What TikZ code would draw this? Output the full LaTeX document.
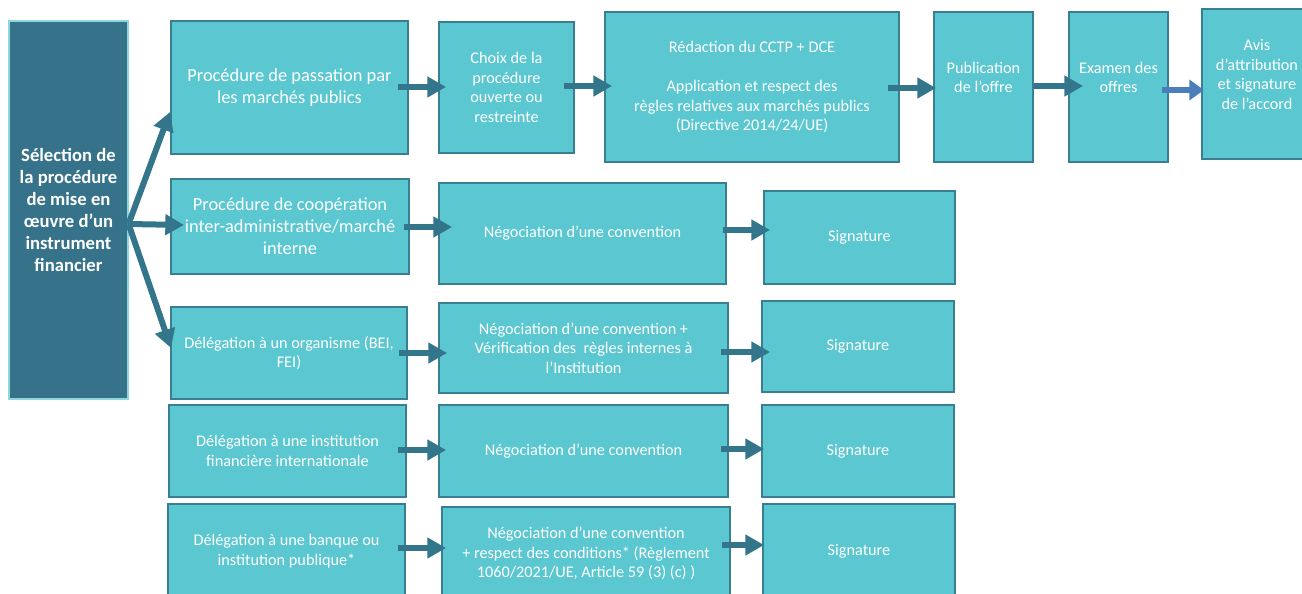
\documentclass[tikz,border=0pt]{standalone}
\usepackage{fontspec}
\setmainfont{Carlito}
\usetikzlibrary{arrows.meta,calc}
\definecolor{boxfill}{HTML}{5BC7D0}
\definecolor{boxline}{HTML}{3A7E94}
\definecolor{darkfill}{HTML}{36738A}
\definecolor{arrowcol}{HTML}{33758B}
\definecolor{bluearrow}{HTML}{4A7EBB}
\tikzset{
  sz/.style 2 args={minimum width=#1*0.75pt, minimum height=#2*0.75pt},
  stepbox/.style={draw=boxline, line width=1.5pt, fill=boxfill, text=white,
    inner sep=0pt, align=center, font=\fontsize{12.2}{14.7}\selectfont},
  bigtext/.style={font=\fontsize{13.8}{16.5}\selectfont},
  selbox/.style={draw=boxfill!70!white, line width=0.8pt, fill=darkfill, text=white,
    inner sep=0pt, align=center, font=\bfseries\fontsize{14}{16.5}\selectfont},
  arr/.style={draw=arrowcol, line width=4.5pt, -{Triangle[length=14pt,width=15pt]}},
  barr/.style={draw=bluearrow, line width=4.5pt, -{Triangle[length=11pt,width=15pt]}}
}
\begin{document}
\begin{tikzpicture}[x=0.75pt, y=-0.75pt]
\useasboundingbox (0,0) rectangle (1302,593);
\clip (0,0) rectangle (1302,593);

% selection box
\node[selbox, sz={119}{378}] (sel) at (68.5,210) {Sélection de\\la procédure\\de mise en\\œuvre d’un\\instrument\\financier};

% first column: the five procedures
\node[stepbox, bigtext, sz={237}{133}] (a1) at (289.5,87.5) {Procédure de passation par\\les marchés publics};
\node[stepbox, bigtext, sz={238}{95}] (a2) at (290,226.5) {Procédure de coopération\\inter-administrative/marché\\interne};
\node[stepbox, sz={236}{92}] (a3) at (289,353) {Délégation à un organisme (BEI,\\FEI)};
\node[stepbox, sz={237}{92}] (a4) at (287.5,451) {Délégation à une institution\\financière internationale};
\node[stepbox, sz={237}{94}] (a5) at (286.5,551) {Délégation à une banque ou\\institution publique*};

% public procurement chain
\node[stepbox, sz={135}{131}] (b1) at (506.5,87.5) {Choix de la\\procédure\\ouverte ou\\restreinte};
\node[stepbox, sz={294}{150}] (r) at (752,87) {Rédaction du CCTP + DCE\\\mbox{}\\Application et respect des\\règles relatives aux marchés publics\\(Directive 2014/24/UE)};
\node[stepbox, sz={99}{150}] (p) at (983.5,87) {Publication\\de l’offre\\\mbox{}};
\node[stepbox, sz={99}{150}] (e) at (1118.5,87) {Examen des\\offres\\\mbox{}};
\node[stepbox, sz={110}{150}] (av) at (1257,84) {Avis\\d’attribution\\et signature\\de l’accord\\\mbox{}};

% negotiation column
\node[stepbox, sz={287}{101}] (b2) at (582.5,233.5) {Négociation d’une convention};
\node[stepbox, sz={289}{90}] (b3) at (583.5,348) {Négociation d’une convention +\\Vérification des\ \ règles internes à\\l’Institution};
\node[stepbox, sz={289}{92}] (b4) at (583.5,451) {Négociation d’une convention};
\node[stepbox, sz={288}{93}] (b5) at (586,553.5) {Négociation d’une convention\\+ respect des conditions* (Règlement\\1060/2021/UE, Article 59 (3) (c) )};

% signature column
\node[stepbox, sz={191}{93}] (c2) at (859.5,237.5) {Signature};
\node[stepbox, sz={192}{91}] (c3) at (858,346.5) {Signature};
\node[stepbox, sz={192}{92}] (c4) at (858,451) {Signature};
\node[stepbox, sz={192}{94}] (c5) at (859,551) {Signature};

% fan-out from the selection box
\coordinate (fork) at ($(sel.east)+(0,14)$);
\draw[arr] (fork) -- ($(a1.west)+(0,24.5)$);
\draw[arr] (fork) -- ($(a2.west)+(14,-1.5)$);
\draw[arr] (fork) -- ($(a3.west)+(1,-5)$);

% top chain
\draw[arr] ($(a1.east)+(-11,-0.5)$) -- ($(b1.west)+(8,-0.5)$);
\draw[arr] ($(b1.east)+(-11,-1.5)$) -- ($(r.west)+(8,-1)$);
\draw[arr] ($(r.east)+(-12,1)$) -- ($(p.west)+(3,1)$);
\draw[arr] ($(p.east)+(0,-1)$) -- ($(e.west)+(15,-1)$);
\draw[barr] ($(e.east)+(-7,3)$) -- ($(av.west)+(3,6)$);

% lower rows
\draw[arr] ($(a2.east)+(-6,0.5)$) -- ($(b2.west)+(14,-6.5)$);
\draw[arr] ($(b2.east)+(-4,-3.5)$) -- ($(c2.west)+(7,-7.5)$);
\draw[arr] ($(a3.east)+(-9,0)$) -- ($(b3.west)+(9,5)$);
\draw[arr] ($(b3.east)+(-8,4)$) -- ($(c3.west)+(9,5.5)$);
\draw[arr] ($(a4.east)+(-9,-1)$) -- ($(b4.west)+(8,-1)$);
\draw[arr] ($(b4.east)+(-8,-2)$) -- ($(c4.west)+(3,-2)$);
\draw[arr] ($(a5.east)+(-8,-3)$) -- ($(b5.west)+(5,-5.5)$);
\draw[arr] ($(b5.east)+(-9,-8.5)$) -- ($(c5.west)+(2,-6)$);
\end{tikzpicture}
\end{document}
